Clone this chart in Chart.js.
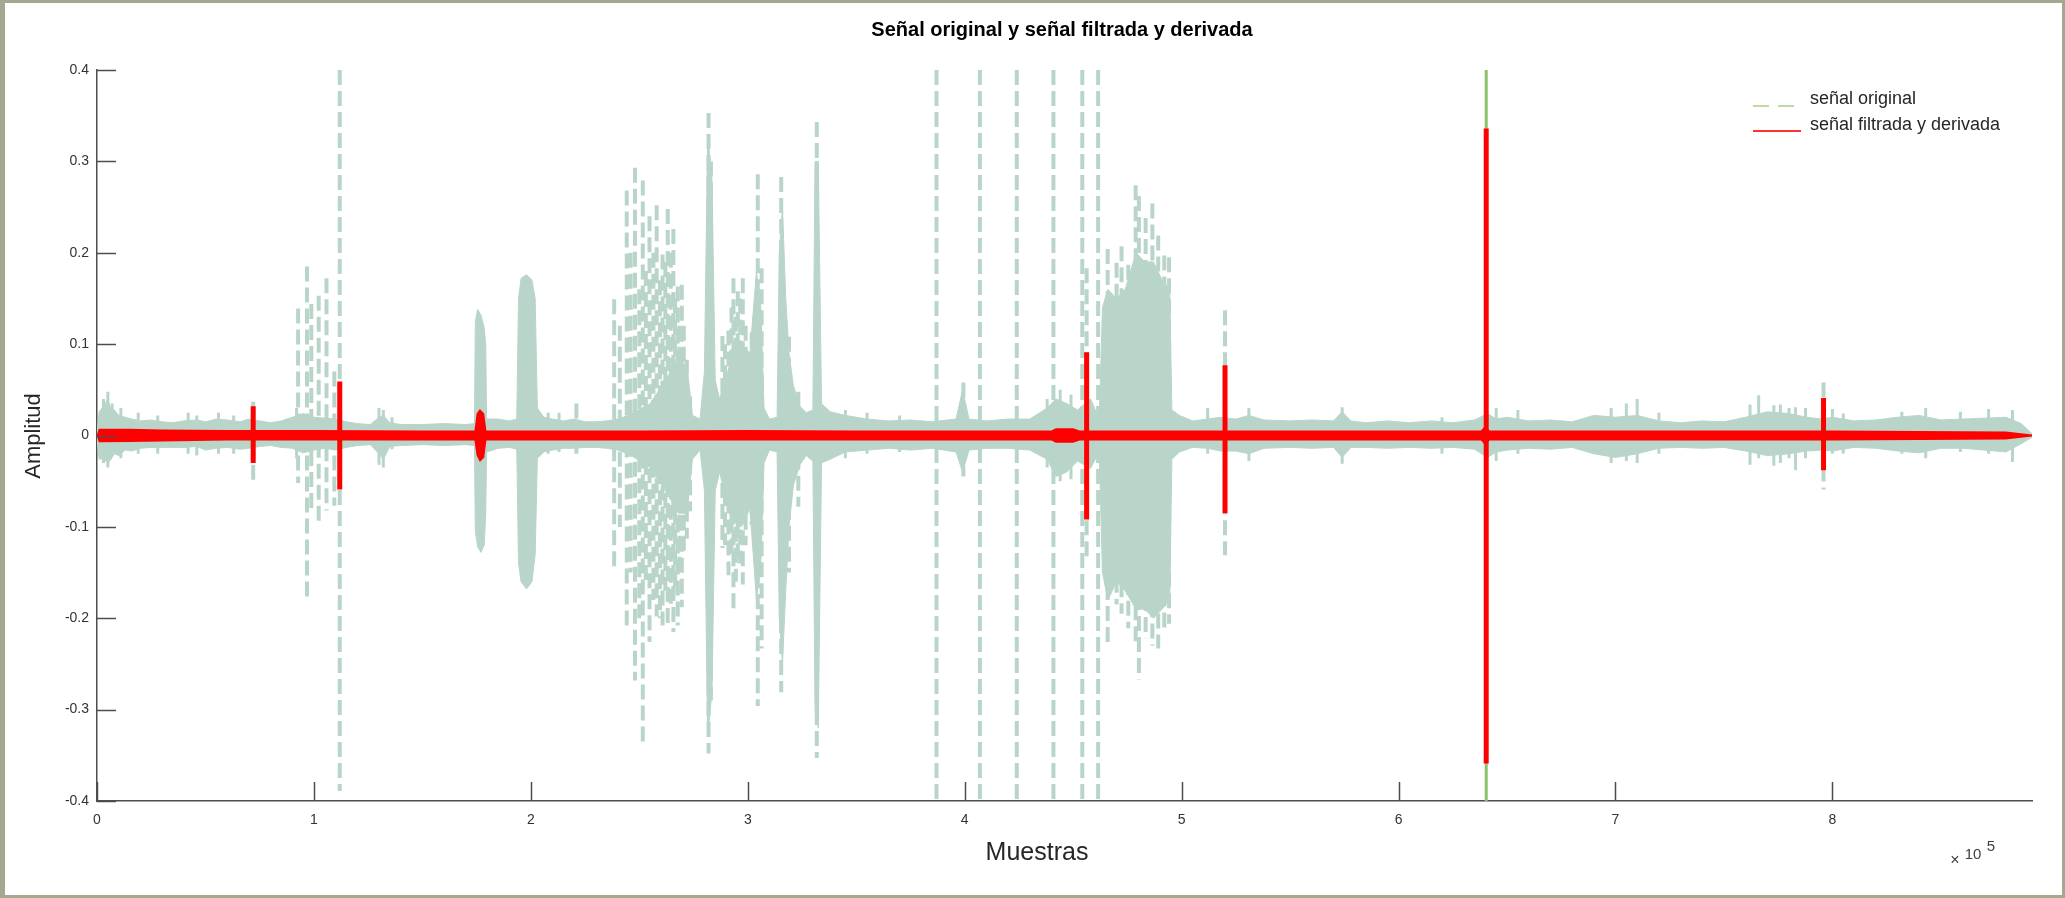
<!DOCTYPE html>
<html>
<head>
<meta charset="utf-8">
<script src="https://cdn.jsdelivr.net/npm/chart.js@4.4.0/dist/chart.umd.min.js"></script>
<style>
  html, body { margin: 0; padding: 0; background: #fff; }
  #wrap { position: relative; width: 2065px; height: 898px; }
  #frame {
    position: absolute; left: 0; top: 0; width: 2065px; height: 898px;
    box-sizing: border-box; border-style: solid; border-color: #a5a791;
    border-width: 3px 3px 3px 5px; pointer-events: none;
  }
</style>
</head>
<body>
<div id="wrap">
  <canvas id="chartSignal" width="2065" height="898"></canvas>
  <div id="frame"></div>
</div>
<script>

// noise band of the original signal (upper / lower envelope)
const origBandX = [0, 1000, 3000, 5000, 6500, 8000, 10000, 13000, 16000, 20000, 25000, 30000, 35000, 40000,
  46000, 50000, 55000, 60000, 66000, 70000, 75000, 80000, 85000, 90000, 95000, 100000, 105000, 110000,
  115000, 120000, 126000, 130000, 132000, 135000, 140000, 150000, 160000, 170000, 174000, 174400, 175500,
  177000, 178500, 179200, 179600, 185000, 190000, 193500, 194300, 195500, 198000, 200500, 202000, 203000,
  206000, 210000, 215000, 220000, 225000, 230000, 235000, 240000, 245000, 255000, 262000, 268000, 272000,
  274500, 278000, 280000, 281500, 283500, 285000, 287000, 292000, 297000, 301000, 304000, 306000, 307500,
  310000, 313500, 314500, 316000, 317500, 319000, 321000, 324000, 327000, 330000, 331000, 332500, 334000,
  338000, 345000, 355000, 365000, 375000, 385000, 396000, 399000, 402000, 410000, 420000, 430000, 438000,
  442000, 447000, 452000, 458000, 462000, 463500, 466000, 470000, 474000, 479000, 483000, 487000, 491000,
  494500, 495500, 499000, 505000, 512000, 518000, 525000, 531000, 538000, 550000, 560000, 570000, 574000,
  578000, 585000, 595000, 605000, 615000, 625000, 635000, 641000, 645000, 650000, 660000, 670000, 680000,
  690000, 700000, 710000, 720000, 730000, 740000, 750000, 760000, 770000, 780000, 788000, 795000, 800000,
  810000, 820000, 830000, 840000, 850000, 860000, 870000, 880000, 887000, 892000];
const origBandHi = [0.004, 0.026, 0.032, 0.040, 0.028, 0.028, 0.022, 0.020, 0.018, 0.016, 0.017, 0.015, 0.014, 0.016,
  0.017, 0.015, 0.018, 0.017, 0.015, 0.018, 0.016, 0.014, 0.016, 0.020, 0.024, 0.020, 0.019, 0.018,
  0.015, 0.013, 0.012, 0.020, 0.022, 0.014, 0.012, 0.012, 0.013, 0.012, 0.013, 0.125, 0.138,
  0.132, 0.118, 0.100, 0.018, 0.018, 0.016, 0.018, 0.150, 0.172, 0.176, 0.170, 0.150, 0.030,
  0.020, 0.018, 0.016, 0.018, 0.015, 0.015, 0.016, 0.018, 0.022, 0.035, 0.060, 0.085, 0.075,
  0.022, 0.018, 0.070, 0.330, 0.280, 0.060, 0.040, 0.080, 0.100, 0.090, 0.180, 0.140, 0.030,
  0.018, 0.020, 0.200, 0.250, 0.150, 0.090, 0.055, 0.032, 0.025, 0.028, 0.300, 0.300, 0.035,
  0.026, 0.022, 0.018, 0.016, 0.017, 0.015, 0.018, 0.050, 0.018, 0.016, 0.018, 0.018, 0.030,
  0.040, 0.035, 0.028, 0.040, 0.018, 0.140, 0.160, 0.150, 0.160, 0.200, 0.190, 0.190, 0.170,
  0.160, 0.028, 0.022, 0.016, 0.018, 0.020, 0.018, 0.022, 0.017, 0.016, 0.017, 0.016, 0.026,
  0.016, 0.014, 0.016, 0.014, 0.016, 0.014, 0.017, 0.024, 0.018, 0.020, 0.016, 0.017, 0.015,
  0.022, 0.020, 0.022, 0.016, 0.014, 0.016, 0.015, 0.020, 0.026, 0.024, 0.020, 0.018, 0.020,
  0.016, 0.017, 0.020, 0.022, 0.017, 0.018, 0.019, 0.020, 0.013, 0.002];
const origBandLo = [-0.004, -0.026, -0.025, -0.030, -0.026, -0.020, -0.022, -0.016, -0.017, -0.014, -0.013, -0.013, -0.013, -0.013,
  -0.012, -0.016, -0.014, -0.013, -0.015, -0.014, -0.012, -0.011, -0.013, -0.014, -0.019, -0.016, -0.014, -0.016,
  -0.013, -0.011, -0.010, -0.020, -0.026, -0.012, -0.011, -0.010, -0.011, -0.010, -0.011, -0.105, -0.122,
  -0.128, -0.120, -0.085, -0.018, -0.014, -0.013, -0.015, -0.140, -0.160, -0.168, -0.160, -0.130, -0.025,
  -0.018, -0.016, -0.014, -0.014, -0.013, -0.013, -0.014, -0.016, -0.020, -0.035, -0.060, -0.085, -0.085,
  -0.026, -0.016, -0.060, -0.330, -0.280, -0.060, -0.040, -0.090, -0.100, -0.080, -0.180, -0.140, -0.030,
  -0.016, -0.018, -0.200, -0.250, -0.170, -0.100, -0.055, -0.032, -0.022, -0.028, -0.300, -0.320, -0.030,
  -0.026, -0.018, -0.016, -0.014, -0.016, -0.014, -0.018, -0.040, -0.016, -0.014, -0.014, -0.016, -0.026,
  -0.045, -0.040, -0.028, -0.036, -0.018, -0.150, -0.180, -0.160, -0.170, -0.190, -0.190, -0.200, -0.190,
  -0.180, -0.026, -0.018, -0.013, -0.014, -0.017, -0.017, -0.020, -0.014, -0.013, -0.014, -0.013, -0.024,
  -0.013, -0.013, -0.014, -0.013, -0.014, -0.013, -0.015, -0.024, -0.018, -0.016, -0.014, -0.015, -0.013,
  -0.020, -0.024, -0.020, -0.014, -0.013, -0.014, -0.013, -0.017, -0.022, -0.020, -0.017, -0.016, -0.017,
  -0.013, -0.014, -0.017, -0.019, -0.014, -0.014, -0.016, -0.018, -0.009, -0.002];

// isolated strokes of the original signal (dashed)
const origSpikeX = [72000, 92700, 96800, 98800, 102200, 105800, 109400, 111900, 221000, 238400, 241000, 244200,
  246000, 248000, 250000, 251600, 253000, 254700, 256500, 258000, 259500, 260700, 262000, 263100, 264500,
  265700, 266500, 267700, 268500, 269600, 270500, 271900, 273400, 281900, 283000, 288300, 289500, 291100,
  292500, 293400, 294500, 295400, 296500, 297700, 299000, 301800, 303000, 304600, 306400, 315400, 319000,
  323300, 331800, 387000, 399400, 407000, 424000, 440900, 454200, 456200, 461500, 465900, 470000, 472300,
  475400, 478800, 480300, 483400, 486500, 489200, 492000, 494200, 520000, 795900];
const origSpikeTop = [0.037, 0.139, 0.185, 0.144, 0.153, 0.172, 0.070, 0.400, 0.035, 0.149, 0.120, 0.268,
  0.200, 0.293, 0.160, 0.279, 0.180, 0.240, 0.200, 0.252, 0.170, 0.198, 0.190, 0.248, 0.200,
  0.226, 0.150, 0.163, 0.120, 0.165, 0.120, 0.083, 0.043, 0.353, 0.300, 0.109, 0.100, 0.115,
  0.140, 0.172, 0.130, 0.158, 0.150, 0.172, 0.120, 0.113, 0.130, 0.286, 0.183, 0.283, 0.108,
  0.048, 0.343, 0.400, 0.058, 0.400, 0.400, 0.400, 0.400, 0.183, 0.400, 0.204, 0.189, 0.207,
  0.187, 0.274, 0.262, 0.238, 0.254, 0.219, 0.197, 0.195, 0.137, 0.058];
const origSpikeBottom = [-0.050, -0.052, -0.179, -0.080, -0.097, -0.082, -0.077, -0.389, -0.020, -0.148, -0.100, -0.210,
  -0.150, -0.268, -0.200, -0.341, -0.160, -0.226, -0.180, -0.198, -0.200, -0.208, -0.170, -0.210, -0.190,
  -0.215, -0.170, -0.208, -0.150, -0.188, -0.130, -0.113, -0.083, -0.348, -0.290, -0.123, -0.120, -0.153,
  -0.130, -0.190, -0.160, -0.135, -0.140, -0.163, -0.120, -0.098, -0.120, -0.296, -0.233, -0.281, -0.150,
  -0.078, -0.353, -0.400, -0.045, -0.400, -0.400, -0.400, -0.400, -0.138, -0.400, -0.226, -0.185, -0.195,
  -0.211, -0.228, -0.267, -0.222, -0.230, -0.233, -0.211, -0.206, -0.131, -0.059];

// short noise strokes that poke out of the band
const noiseX = [3000, 5000, 7000, 11000, 19000, 28000, 42000, 46000, 56000, 63000, 92000, 130000, 132000,
  136000, 208000, 213000, 345000, 355000, 370000, 438000, 444000, 449000, 512000, 531000, 574000, 620000,
  645000, 655000, 698000, 705000, 710000, 720000, 762000, 766000, 773000, 776000, 780000, 783000, 787600,
  800000, 805000, 832000, 843000, 859000, 872000, 883000];
const noiseTop = [0.040, 0.048, 0.035, 0.030, 0.025, 0.022, 0.025, 0.022, 0.025, 0.022, 0.030, 0.030, 0.028,
  0.020, 0.025, 0.025, 0.028, 0.025, 0.022, 0.040, 0.050, 0.045, 0.030, 0.030, 0.031, 0.020,
  0.030, 0.028, 0.030, 0.035, 0.040, 0.025, 0.034, 0.044, 0.033, 0.034, 0.030, 0.031, 0.030,
  0.029, 0.024, 0.026, 0.030, 0.026, 0.029, 0.028];
const noiseBottom = [-0.030, -0.035, -0.020, -0.025, -0.020, -0.020, -0.020, -0.022, -0.020, -0.020, -0.025, -0.032, -0.035,
  -0.015, -0.020, -0.018, -0.025, -0.020, -0.018, -0.035, -0.050, -0.048, -0.020, -0.028, -0.031, -0.020,
  -0.028, -0.020, -0.030, -0.028, -0.030, -0.020, -0.032, -0.025, -0.033, -0.030, -0.025, -0.038, -0.025,
  -0.020, -0.020, -0.020, -0.025, -0.018, -0.020, -0.029];

// the one stroke of the original that shows in plain green
const greenSpikeX = [640400];
const greenSpikeTop = [0.400];
const greenSpikeBottom = [-0.400];

// filtered and derived signal: thick band round zero plus its spikes
const redBandX = [0, 800, 15000, 30000, 60000, 100000, 150000, 174000, 175000, 176500, 178500, 179500,
  250000, 300000, 350000, 440000, 442000, 450000, 453000, 500000, 600000, 638000, 640000, 642000,
  700000, 800000, 880000, 892000];
const redBandHi = [0.001, 0.0075, 0.0075, 0.0065, 0.006, 0.006, 0.0055, 0.0055, 0.024, 0.029, 0.024, 0.0055,
  0.0055, 0.006, 0.0055, 0.0055, 0.008, 0.008, 0.0055, 0.0055, 0.0055, 0.0055, 0.011, 0.0055,
  0.0055, 0.0055, 0.0045, 0.001];
const redBandLo = [-0.001, -0.0075, -0.007, -0.0065, -0.0055, -0.0055, -0.0055, -0.0055, -0.022, -0.029, -0.024, -0.0055,
  -0.0055, -0.0055, -0.0055, -0.0055, -0.008, -0.008, -0.0055, -0.0055, -0.0055, -0.0055, -0.011, -0.0055,
  -0.0055, -0.0055, -0.0045, -0.001];
const redSpikeX = [72000, 111900, 456200, 520000, 640400, 795900];
const redSpikeTop = [0.032, 0.059, 0.091, 0.077, 0.336, 0.041];
const redSpikeBottom = [-0.030, -0.059, -0.092, -0.085, -0.359, -0.038];

const yTicks = [-0.4, -0.3, -0.2, -0.1, 0, 0.1, 0.2, 0.3, 0.4];
const xTicks = [0, 100000, 200000, 300000, 400000, 500000, 600000, 700000, 800000];

const origColor = "#b9d5c9";
const redColor = "#ff0000";

function bandPoints(xs, ys) {
  return xs.map((x, i) => ({ x: x, y: ys[i] }));
}

function spikePoints(xs, tops, bottoms) {
  // each spike is a vertical stroke, strokes separated by gaps
  const pts = [];
  xs.forEach((x, i) => {
    pts.push({ x: x, y: tops[i] });
    pts.push({ x: x, y: bottoms[i] });
    pts.push({ x: x, y: null });
  });
  return pts;
}

const fontFamily = "'Liberation Sans', Arial, Helvetica, sans-serif";
Chart.defaults.font.family = fontFamily;

// title, axis names, inward tick marks, exponent and legend, MATLAB style
const figureDecor = {
  id: "figureDecor",
  afterDraw(chart) {
    const ctx = chart.ctx;
    const xs = chart.scales.x;
    const ys = chart.scales.y;
    const area = chart.chartArea;
    ctx.save();

    ctx.strokeStyle = "#4d4d4d";
    ctx.lineWidth = 1.5;
    yTicks.forEach((v) => {
      const py = Math.round(ys.getPixelForValue(v)) + 0.5;
      ctx.beginPath();
      ctx.moveTo(area.left, py);
      ctx.lineTo(area.left + 19, py);
      ctx.stroke();
    });
    xTicks.forEach((v) => {
      const px = Math.round(xs.getPixelForValue(v)) + 0.5;
      ctx.beginPath();
      ctx.moveTo(px, area.bottom);
      ctx.lineTo(px, area.bottom - 19);
      ctx.stroke();
    });

    ctx.fillStyle = "#000";
    ctx.textAlign = "center";
    ctx.textBaseline = "middle";
    ctx.font = "bold 20px " + fontFamily;
    ctx.fillText("Señal original y señal filtrada y derivada", 1062, 30);

    ctx.fillStyle = "#262626";
    ctx.font = "25px " + fontFamily;
    ctx.fillText("Muestras", 1037, 853);

    ctx.save();
    ctx.translate(34, 436);
    ctx.rotate(-Math.PI / 2);
    ctx.font = "22px " + fontFamily;
    ctx.fillText("Amplitud", 0, 0);
    ctx.restore();

    ctx.fillStyle = "#404040";
    ctx.font = "16px " + fontFamily;
    ctx.fillText("×", 1955, 861);
    ctx.font = "15px " + fontFamily;
    ctx.fillText("10", 1973, 855);
    ctx.fillText("5", 1991, 847);

    // legend
    ctx.lineWidth = 2;
    ctx.strokeStyle = "#bddca0";
    ctx.setLineDash([16, 9]);
    ctx.beginPath();
    ctx.moveTo(1753, 106);
    ctx.lineTo(1802, 106);
    ctx.stroke();
    ctx.setLineDash([]);
    ctx.strokeStyle = "#ff3030";
    ctx.beginPath();
    ctx.moveTo(1753, 131);
    ctx.lineTo(1801, 131);
    ctx.stroke();

    ctx.fillStyle = "#262626";
    ctx.font = "18px " + fontFamily;
    ctx.textAlign = "left";
    ctx.textBaseline = "alphabetic";
    ctx.fillText("señal original", 1810, 104);
    ctx.fillText("señal filtrada y derivada", 1810, 130);

    ctx.restore();
  },
};

const ctx = document.getElementById("chartSignal").getContext("2d");
new Chart(ctx, {
  type: "line",
  data: {
    datasets: [
      {
        label: "señal filtrada y derivada",
        data: spikePoints(redSpikeX, redSpikeTop, redSpikeBottom),
        borderColor: redColor,
        borderWidth: 5,
        order: 0,
      },
      {
        label: "redBandHi",
        data: bandPoints(redBandX, redBandHi),
        borderColor: redColor,
        backgroundColor: redColor,
        borderWidth: 0,
        fill: "+1",
        order: 1,
      },
      {
        label: "redBandLo",
        data: bandPoints(redBandX, redBandLo),
        borderColor: redColor,
        borderWidth: 0,
        order: 1,
      },
      {
        label: "greenSpike",
        data: spikePoints(greenSpikeX, greenSpikeTop, greenSpikeBottom),
        borderColor: "#8cc26c",
        borderWidth: 3,
        order: 2,
      },
      {
        label: "señal original",
        data: spikePoints(origSpikeX, origSpikeTop, origSpikeBottom),
        borderColor: origColor,
        borderWidth: 4,
        borderDash: [15, 6],
        order: 3,
      },
      {
        label: "noise",
        data: spikePoints(noiseX, noiseTop, noiseBottom),
        borderColor: origColor,
        borderWidth: 3,
        order: 3,
      },
      {
        label: "origBandHi",
        data: bandPoints(origBandX, origBandHi),
        borderColor: origColor,
        backgroundColor: origColor,
        borderWidth: 1,
        fill: "+1",
        order: 4,
      },
      {
        label: "origBandLo",
        data: bandPoints(origBandX, origBandLo),
        borderColor: origColor,
        borderWidth: 1,
        order: 4,
      },
    ],
  },
  options: {
    responsive: false,
    animation: false,
    devicePixelRatio: 1,
    spanGaps: false,
    elements: {
      point: { radius: 0, hoverRadius: 0 },
      line: { tension: 0 },
    },
    layout: { padding: { left: 0, top: 70, right: 33, bottom: 0 } },
    plugins: {
      legend: { display: false },
      title: { display: false },
      tooltip: { enabled: false },
    },
    scales: {
      x: {
        type: "linear",
        min: 0,
        max: 892000,
        afterFit: (scale) => {
          scale.height = 97;
        },
        afterBuildTicks: (scale) => {
          scale.ticks = xTicks.map((v) => ({ value: v }));
        },
        ticks: {
          color: "#333",
          font: { size: 14 },
          padding: 11,
          maxRotation: 0,
          callback: (v) => String(v / 100000),
        },
        grid: { display: false, drawTicks: false },
        border: { display: true, color: "#4d4d4d", width: 1.5 },
      },
      y: {
        min: -0.4,
        max: 0.4,
        afterFit: (scale) => {
          scale.width = 97;
        },
        afterBuildTicks: (scale) => {
          scale.ticks = yTicks.map((v) => ({ value: v }));
        },
        ticks: {
          color: "#333",
          font: { size: 14 },
          padding: 8,
          callback: (v) => String(Math.round(v * 10) / 10),
        },
        grid: { display: false, drawTicks: false },
        border: { display: true, color: "#4d4d4d", width: 1.5 },
      },
    },
  },
  plugins: [figureDecor],
});
</script>
</body>
</html>
